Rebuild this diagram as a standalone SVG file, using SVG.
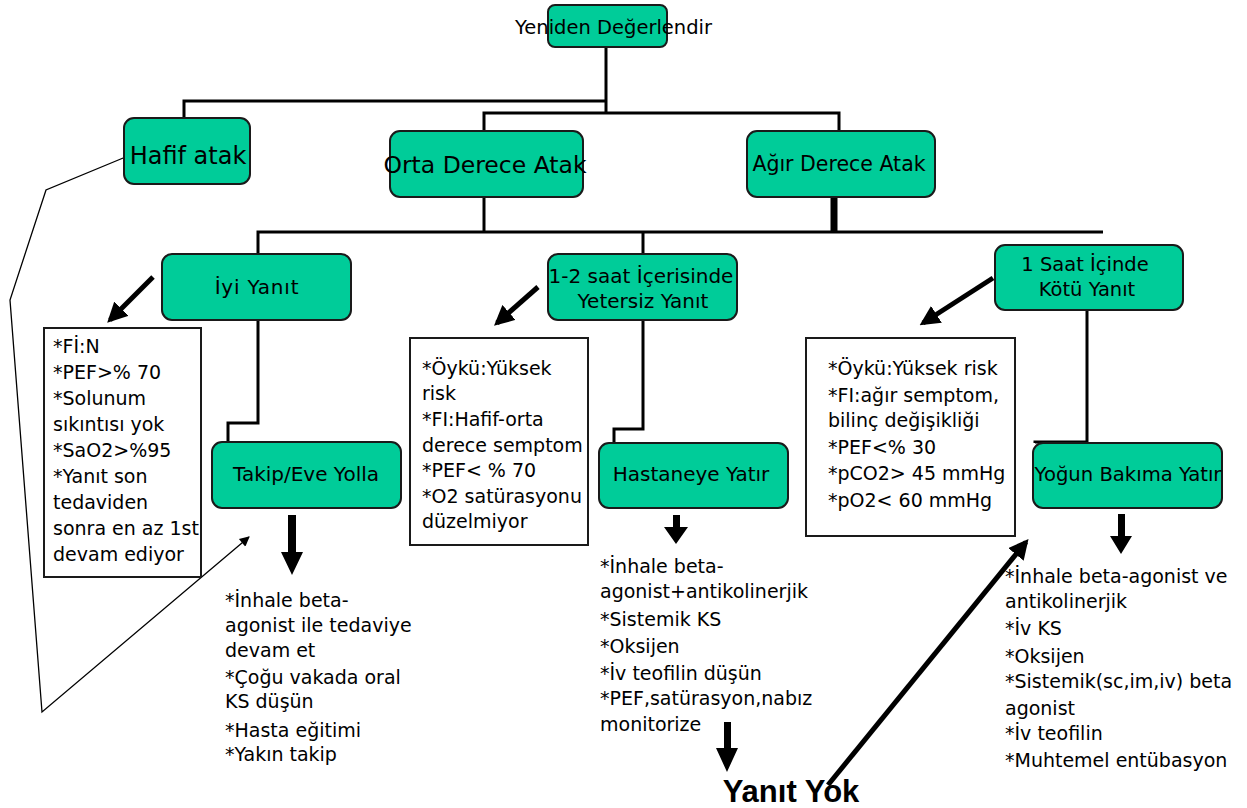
<svg xmlns="http://www.w3.org/2000/svg" width="1247" height="808" viewBox="0 0 1247 808">
<style>
.node rect{fill:#00CC99;stroke:#1a1a1a;stroke-width:2}
.box rect{fill:#fff;stroke:#1a1a1a;stroke-width:2}
text{font-family:"DejaVu Sans","Liberation Sans",sans-serif;fill:#000;font-size:19px}
.node text{font-size:20px}
.c{text-anchor:middle}
.conn path{fill:none;stroke:#000;stroke-width:3}
.conn .thin{stroke-width:1.3}
.conn .arr{stroke-width:5}
.conn polygon{fill:#000}
</style>
<defs>
<marker id="hd" viewBox="0 0 10 10" refX="8" refY="5" markerWidth="4" markerHeight="4" orient="auto"><path d="M0,0 L10,5 L0,10 Z" fill="#000"/></marker>
<marker id="hdt" viewBox="0 0 10 10" refX="9" refY="5" markerWidth="12" markerHeight="10" markerUnits="userSpaceOnUse" orient="auto"><path d="M0,0 L10,5 L0,10 Z" fill="#000"/></marker>
</defs>
<rect width="1247" height="808" fill="#fff"/>
<g class="conn" id="connectors">
<path d="M606,47 V113"/>
<path d="M184,118 V101 H606"/>
<path d="M484,131 V113 H839 V131"/>
<path d="M484,197 V232"/>
<path d="M258,254 V232 H1103"/>
<path d="M643,232 V254"/>
<path d="M834,195 V232" style="stroke-width:7"/>
<path d="M258,320 V423 H228 V442"/>
<path d="M643,320 V429 H614 V443"/>
<path d="M1087,310 V442 H1035 V443"/>
<path class="arr" d="M153,277 L110,320" marker-end="url(#hd)"/>
<path class="arr" d="M538,287 L497,323" marker-end="url(#hd)"/>
<path class="arr" d="M993,278 L923,323" marker-end="url(#hd)"/>
<path class="arr" d="M828,785 L1026,542" marker-end="url(#hd)"/>
<path class="thin" d="M128,156 L46,190 L10,300 L42,712 L249,537" marker-end="url(#hdt)"/>
<polygon points="288,515 296,515 296,552 303,552 292,575 281,552 288,552"/>
<polygon points="673,515 680,515 680,527 688,527 676,544 664,527 673,527"/>
<polygon points="1118,514 1125,514 1125,536 1132,536 1121,554 1110,536 1118,536"/>
<polygon points="724,722 731,722 731,748 738,748 727,772 716,748 724,748"/>
</g>
<g id="n-yeniden" class="node"><rect x="548" y="5" width="119" height="42" rx="7"/><text class="c" x="613.5" y="34" style="font-size:19.5px">Yeniden Değerlendir</text></g>
<g id="n-hafif" class="node"><rect x="124" y="118" width="126" height="66" rx="10"/><text class="c" x="188" y="164" style="font-size:24px">Hafif atak</text></g>
<g id="n-orta" class="node"><rect x="390" y="131" width="193" height="66" rx="10"/><text class="c" x="485" y="173" style="font-size:23.5px">Orta Derece Atak</text></g>
<g id="n-agir" class="node"><rect x="747" y="131" width="188" height="66" rx="10"/><text class="c" x="839" y="171" style="font-size:20.5px">Ağır Derece Atak</text></g>
<g id="n-iyi" class="node"><rect x="162" y="254" width="189" height="66" rx="10"/><text class="c" x="257" y="294" style="letter-spacing:0.8px">İyi Yanıt</text></g>
<g id="n-yetersiz" class="node"><rect x="548" y="254" width="189" height="66" rx="10"/><text class="c" x="641" y="283">1-2 saat İçerisinde</text><text class="c" x="643" y="308">Yetersiz Yanıt</text></g>
<g id="n-kotu" class="node"><rect x="995" y="245" width="188" height="65" rx="10"/><text class="c" x="1085" y="271" style="font-size:19.5px">1 Saat İçinde</text><text class="c" x="1087" y="296" style="font-size:19.5px">Kötü Yanıt</text></g>
<g id="n-takip" class="node"><rect x="212" y="442" width="189" height="66" rx="10"/><text class="c" x="306" y="481">Takip/Eve Yolla</text></g>
<g id="n-hastane" class="node"><rect x="599" y="443" width="189" height="65" rx="10"/><text class="c" x="691" y="481">Hastaneye Yatır</text></g>
<g id="n-yogun" class="node"><rect x="1033" y="443" width="189" height="65" rx="10"/><text class="c" x="1128" y="481" style="font-size:19.6px">Yoğun Bakıma Yatır</text></g>
<g id="b-iyi" class="box"><rect x="44" y="328" width="157" height="249"/>
<text x="53" y="353">*Fİ:N</text><text x="53" y="379">*PEF&gt;% 70</text><text x="53" y="405">*Solunum</text><text x="53" y="431">sıkıntısı yok</text><text x="53" y="457">*SaO2&gt;%95</text><text x="53" y="483">*Yanıt son</text><text x="53" y="509">tedaviden</text><text x="53" y="535">sonra en az 1st</text><text x="53" y="561">devam ediyor</text></g>
<g id="b-yetersiz" class="box"><rect x="410" y="338" width="178" height="207"/>
<text x="422" y="375">*Öykü:Yüksek</text><text x="422" y="400">risk</text><text x="422" y="426">*FI:Hafif-orta</text><text x="422" y="452">derece semptom</text><text x="422" y="477">*PEF&lt; % 70</text><text x="422" y="503">*O2 satürasyonu</text><text x="422" y="528">düzelmiyor</text></g>
<g id="b-kotu" class="box"><rect x="806" y="338" width="209" height="198"/>
<text x="828" y="375">*Öykü:Yüksek risk</text><text x="828" y="402">*FI:ağır semptom,</text><text x="828" y="427">bilinç değişikliği</text><text x="828" y="454">*PEF&lt;% 30</text><text x="828" y="480">*pCO2&gt; 45 mmHg</text><text x="828" y="507">*pO2&lt; 60 mmHg</text></g>
<g id="t-takip"><text x="225" y="607">*İnhale beta-</text><text x="225" y="632">agonist ile tedaviye</text><text x="225" y="657">devam et</text><text x="225" y="684">*Çoğu vakada oral</text><text x="225" y="708">KS düşün</text><text x="225" y="737">*Hasta eğitimi</text><text x="225" y="761">*Yakın takip</text></g>
<g id="t-hastane"><text x="600" y="573">*İnhale beta-</text><text x="600" y="598">agonist+antikolinerjik</text><text x="600" y="626">*Sistemik KS</text><text x="600" y="653">*Oksijen</text><text x="600" y="680">*İv teofilin düşün</text><text x="600" y="705">*PEF,satürasyon,nabız</text><text x="600" y="731">monitorize</text></g>
<g id="t-yogun"><text x="1005" y="583">*İnhale beta-agonist ve</text><text x="1005" y="608">antikolinerjik</text><text x="1005" y="635">*İv KS</text><text x="1005" y="663">*Oksijen</text><text x="1005" y="688">*Sistemik(sc,im,iv) beta</text><text x="1005" y="715">agonist</text><text x="1005" y="740">*İv teofilin</text><text x="1005" y="767">*Muhtemel entübasyon</text></g>
<g id="n-yanityok"><text x="791" y="802" class="c" style="font-family:'Liberation Sans',Arial,sans-serif;font-size:31px;font-weight:bold">Yanıt Yok</text></g>
</svg>
